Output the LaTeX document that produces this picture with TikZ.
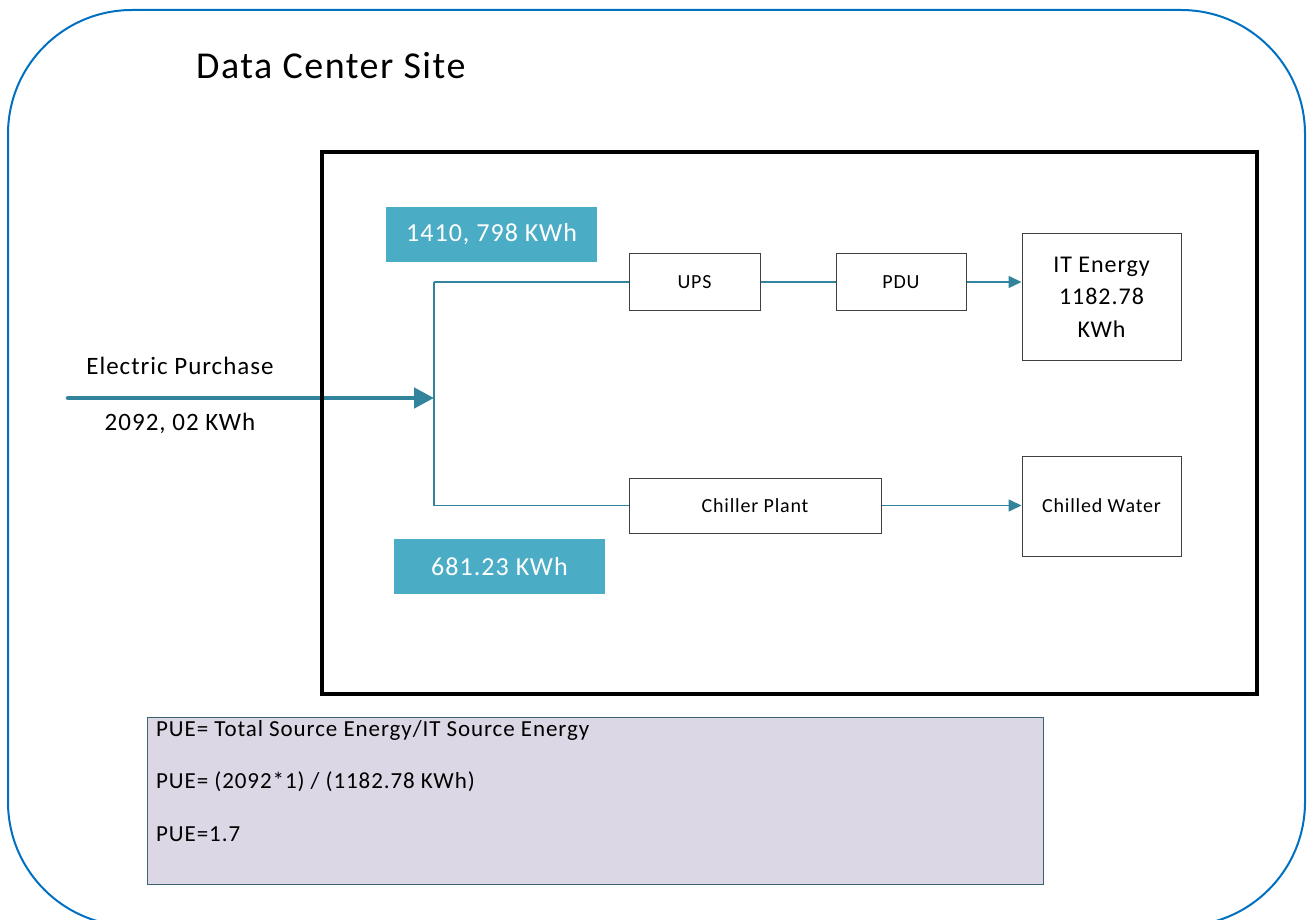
\documentclass[tikz,border=0pt]{standalone}
\usepackage{fontspec}
\setmainfont[LetterSpace=4]{Carlito}
\usetikzlibrary{arrows.meta}
\definecolor{siteblue}{HTML}{0070C0}
\definecolor{tealfill}{HTML}{4BACC6}
\definecolor{tealline}{HTML}{31849B}
\definecolor{puefill}{HTML}{DCD7E5}
\definecolor{pueline}{HTML}{3B6372}
\definecolor{boxline}{HTML}{404040}
\tikzset{
  fs/.style={font=\fontsize{#1}{#1}\selectfont},
  unit/.style={draw=boxline, line width=1pt, fill=white, inner sep=0pt, align=center, fs=20},
  tag/.style={fill=tealfill, text=white, inner sep=0pt, minimum width=211pt, minimum height=55pt, fs=26},
  conn/.style={draw=tealline, line width=1.6pt},
  tip/.style={-{Triangle[length=13pt,width=12pt]}},
  bigarrow/.style={draw=tealline, line width=4.5pt, line cap=round, -{Triangle[length=20pt,width=20pt]}},
  plain/.style={inner sep=0pt, align=center},
}
\begin{document}
\begin{tikzpicture}[x=1pt,y=-1pt]
\useasboundingbox (0,0) rectangle (1307,920);
\clip (0,0) rectangle (1307,920);
\fill[white] (0,0) rectangle (1307,920);
% outer site
\draw[siteblue, line width=2pt, rounded corners=124pt] (8,10) rectangle (1305,926);
\node[plain, fs=38, anchor=west] (title) at (196,66) {Data Center Site};
% electric purchase
\coordinate (src) at (68,398);
\coordinate (jm) at (434,398);
\coordinate (j1) at (434,282);
\coordinate (j2) at (434,505.5);
\draw[bigarrow] (src) -- (jm);
\node[plain, fs=25] (ep) at (180,366) {Electric Purchase};
\node[plain, fs=25] (epv) at (180,423) {2092, 02 KWh};
% building box
\draw[line width=4.5pt] (322,152) rectangle (1257,694);
% units
\node[unit, minimum width=131pt, minimum height=56pt] (ups) at (694.5,282) {UPS};
\node[unit, minimum width=130pt, minimum height=56pt] (pdu) at (901,282) {PDU};
\node[unit, minimum width=159pt, minimum height=126pt, font=\fontsize{24}{32.5}\selectfont] (it) at (1101.5,297) {IT Energy\\1182.78\\KWh};
\node[unit, minimum width=252pt, minimum height=55pt] (chiller) at (755,505.5) {Chiller Plant};
\node[unit, minimum width=159pt, minimum height=100pt] (water) at (1101.5,506) {Chilled Water};
\node[tag] (t1) at (491.5,234.5) {1410, 798 KWh};
\node[tag] (t2) at (499.5,566.5) {681.23 KWh};
% connectors
\draw[conn] (j1) -- (j2);
\draw[conn] (j1) -- (ups.west);
\draw[conn] (j2) -- (chiller.west);
\draw[conn] (ups) -- (pdu);
\draw[conn, tip] (pdu.east) -- (pdu.east -| it.west);
\draw[conn, tip] (chiller.east) -- (chiller.east -| water.west);
% PUE
\draw[draw=pueline, fill=puefill, line width=1pt] (147,717) rectangle (1043,884);
\node[plain, fs=23, anchor=west] (p1) at (156,730) {PUE= Total Source Energy/IT Source Energy};
\node[plain, fs=23, anchor=west] (p2) at (156,782) {PUE= (2092*1) / (1182.78 KWh)};
\node[plain, fs=23, anchor=west] (p3) at (156,834) {PUE=1.7};
\end{tikzpicture}
\end{document}
